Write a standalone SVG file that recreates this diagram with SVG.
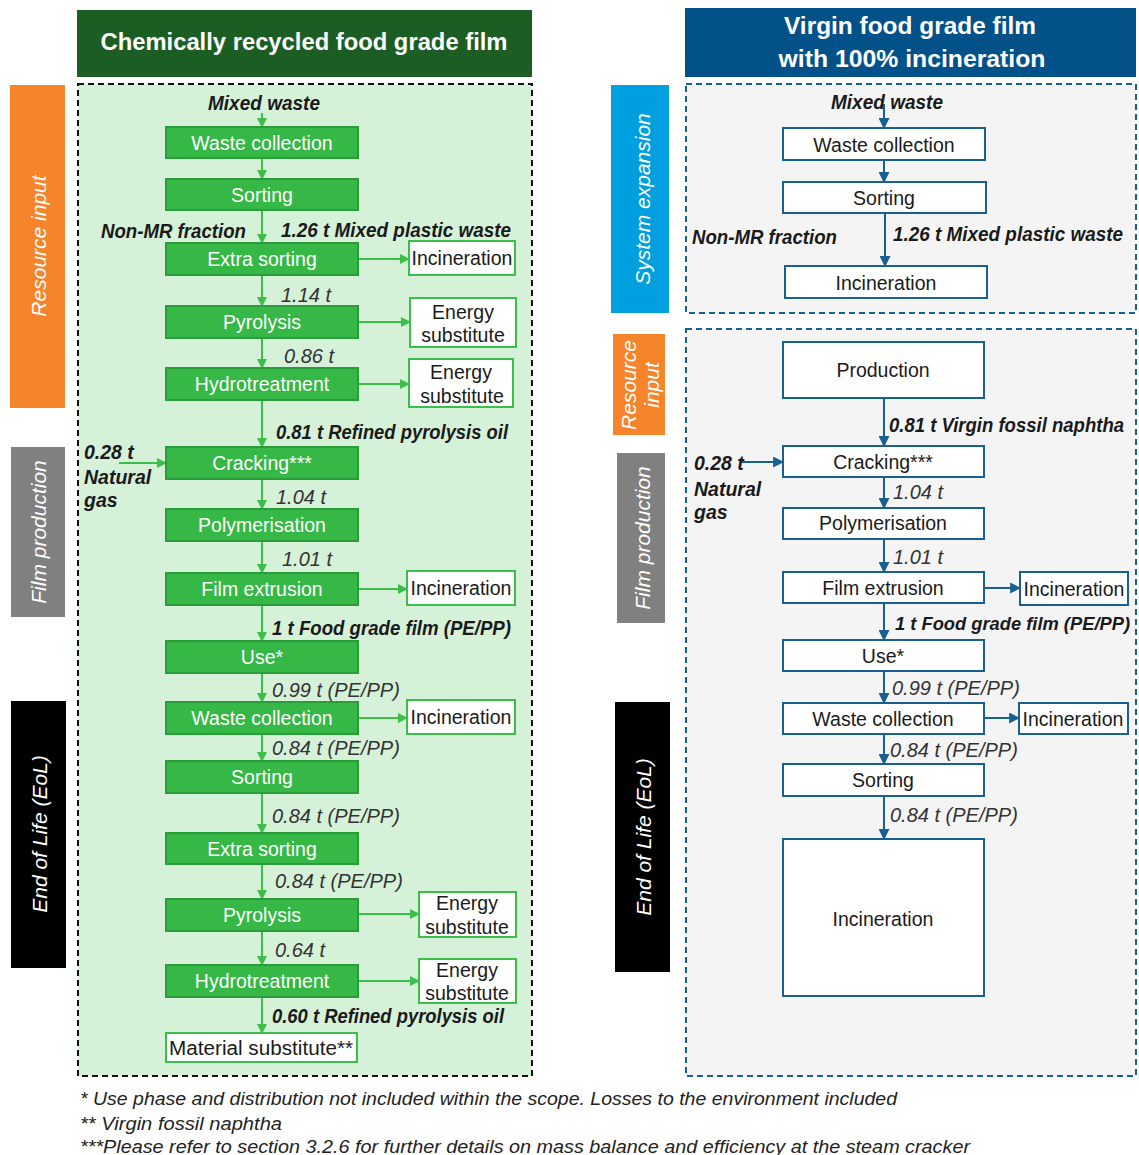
<svg xmlns="http://www.w3.org/2000/svg" width="1139" height="1155" viewBox="0 0 1139 1155">
<defs>
<marker id="ag" viewBox="0 0 10 10" refX="9" refY="5" markerWidth="10" markerHeight="10" markerUnits="userSpaceOnUse" orient="auto"><path d="M0,0 L10,5 L0,10 z" fill="#3cbf4a"/></marker>
<marker id="ab" viewBox="0 0 10 10" refX="9" refY="5" markerWidth="11" markerHeight="11" markerUnits="userSpaceOnUse" orient="auto"><path d="M0,0 L10,5 L0,10 z" fill="#1a5f91"/></marker>
</defs>
<style>
text{font-family:"Liberation Sans",Arial,sans-serif;}
.gb{fill:#35b846;stroke:#2a9c3a;stroke-width:2;}
.gw{fill:#ffffff;stroke:#3cbf4a;stroke-width:2;}
.bw{fill:#ffffff;stroke:#1a5f91;stroke-width:2;}
.tw{fill:#ffffff;font-size:19.5px;text-anchor:middle;dominant-baseline:central;}
.tk{fill:#1a1a1a;font-size:19.5px;text-anchor:middle;dominant-baseline:central;}
.lb{fill:#1a1a1a;font-size:19.5px;font-style:italic;font-weight:bold;dominant-baseline:central;}
.li{fill:#333333;font-size:20px;font-style:italic;dominant-baseline:central;}
.side{fill:#ffffff;font-size:21px;font-style:italic;text-anchor:middle;dominant-baseline:central;}
.hd{fill:#ffffff;font-size:24px;font-weight:bold;text-anchor:middle;dominant-baseline:central;}
.cg{stroke:#3cbf4a;stroke-width:2;fill:none;marker-end:url(#ag);}
.cb{stroke:#1a5f91;stroke-width:2;fill:none;marker-end:url(#ab);}
.fn{fill:#222222;font-size:19px;font-style:italic;dominant-baseline:central;}
</style>

<!-- Headers -->
<g id="header-left"><rect x="77" y="10" width="455" height="67" fill="#1c5d23"/><text class="hd" x="304" y="41" textLength="407" lengthAdjust="spacingAndGlyphs">Chemically recycled food grade film</text></g>
<g id="header-right"><rect x="685" y="8" width="451" height="69" fill="#025189"/><text class="hd" x="910" y="25" textLength="252" lengthAdjust="spacingAndGlyphs">Virgin food grade film</text><text class="hd" x="912" y="58" textLength="267" lengthAdjust="spacingAndGlyphs">with 100% incineration</text></g>

<!-- Boundaries -->
<g id="boundaries">
<rect x="78" y="84" width="454" height="992" fill="#d5f1d8" stroke="#111" stroke-width="2" stroke-dasharray="6,4"/>
<rect x="686" y="84" width="450" height="229" fill="#f4f4f4" stroke="#1a5f91" stroke-width="2" stroke-dasharray="6,4"/>
<rect x="686" y="329" width="450" height="747" fill="#f4f4f4" stroke="#1a5f91" stroke-width="2" stroke-dasharray="6,4"/>
</g>

<!-- Side labels -->
<g id="side-left-resource"><rect x="10" y="85" width="55" height="323" fill="#f5842a"/><text class="side" transform="translate(38,246) rotate(-90)">Resource input</text></g>
<g id="side-left-film"><rect x="11" y="447" width="54" height="170" fill="#808080"/><text class="side" transform="translate(38,532) rotate(-90)">Film production</text></g>
<g id="side-left-eol"><rect x="11" y="701" width="55" height="267" fill="#000000"/><text class="side" transform="translate(39,834) rotate(-90)">End of Life (EoL)</text></g>
<g id="side-right-sys"><rect x="611" y="85" width="58" height="228" fill="#00a0e0"/><text class="side" transform="translate(642,199) rotate(-90)">System expansion</text></g>
<g id="side-right-resource"><rect x="613" y="334" width="52" height="101" fill="#f5842a"/><text class="side" transform="translate(628,385) rotate(-90)">Resource</text><text class="side" transform="translate(651,385) rotate(-90)">input</text></g>
<g id="side-right-film"><rect x="617" y="453" width="48" height="170" fill="#808080"/><text class="side" transform="translate(642,538) rotate(-90)">Film production</text></g>
<g id="side-right-eol"><rect x="615" y="702" width="55" height="270" fill="#000000"/><text class="side" transform="translate(643,837) rotate(-90)">End of Life (EoL)</text></g>

<!-- Connectors -->
<g id="connectors">
<line class="cg" x1="262" y1="113" x2="262" y2="127"/>
<line class="cg" x1="262" y1="158" x2="262" y2="179"/>
<line class="cg" x1="262" y1="210" x2="262" y2="243"/>
<line class="cg" x1="262" y1="275" x2="262" y2="306"/>
<line class="cg" x1="262" y1="338" x2="262" y2="368"/>
<line class="cg" x1="262" y1="400" x2="262" y2="447"/>
<line class="cg" x1="119" y1="463" x2="166" y2="463"/>
<line class="cg" x1="262" y1="479" x2="262" y2="509"/>
<line class="cg" x1="262" y1="541" x2="262" y2="573"/>
<line class="cg" x1="262" y1="605" x2="262" y2="641"/>
<line class="cg" x1="262" y1="673" x2="262" y2="702"/>
<line class="cg" x1="262" y1="734" x2="262" y2="761"/>
<line class="cg" x1="262" y1="793" x2="262" y2="833"/>
<line class="cg" x1="262" y1="864" x2="262" y2="899"/>
<line class="cg" x1="262" y1="931" x2="262" y2="965"/>
<line class="cg" x1="262" y1="997" x2="262" y2="1033"/>
<line class="cg" x1="359" y1="259" x2="409" y2="259"/>
<line class="cg" x1="359" y1="322" x2="410" y2="322"/>
<line class="cg" x1="359" y1="384" x2="409" y2="384"/>
<line class="cg" x1="359" y1="589" x2="407" y2="589"/>
<line class="cg" x1="359" y1="718" x2="407" y2="718"/>
<line class="cg" x1="359" y1="914" x2="419" y2="914"/>
<line class="cg" x1="359" y1="981" x2="419" y2="981"/>

<line class="cb" x1="884" y1="104" x2="884" y2="128"/>
<line class="cb" x1="884" y1="160" x2="884" y2="182"/>
<line class="cb" x1="885" y1="213" x2="885" y2="266"/>
<line class="cb" x1="884" y1="398" x2="884" y2="446"/>
<line class="cb" x1="741" y1="462" x2="783" y2="462"/>
<line class="cb" x1="884" y1="477" x2="884" y2="508"/>
<line class="cb" x1="884" y1="539" x2="884" y2="572"/>
<line class="cb" x1="985" y1="588" x2="1020" y2="588"/>
<line class="cb" x1="884" y1="603" x2="884" y2="640"/>
<line class="cb" x1="884" y1="671" x2="884" y2="703"/>
<line class="cb" x1="985" y1="718" x2="1019" y2="718"/>
<line class="cb" x1="884" y1="734" x2="884" y2="764"/>
<line class="cb" x1="884" y1="796" x2="884" y2="839"/>
</g>

<!-- Left nodes -->
<g id="l-waste-collection"><rect class="gb" x="166" y="127" width="192" height="31"/><text class="tw" x="262" y="143">Waste collection</text></g>
<g id="l-sorting"><rect class="gb" x="166" y="179" width="192" height="31"/><text class="tw" x="262" y="195">Sorting</text></g>
<g id="l-extra-sorting"><rect class="gb" x="166" y="243" width="192" height="32"/><text class="tw" x="262" y="259">Extra sorting</text></g>
<g id="l-pyrolysis"><rect class="gb" x="166" y="306" width="192" height="32"/><text class="tw" x="262" y="322">Pyrolysis</text></g>
<g id="l-hydrotreatment"><rect class="gb" x="166" y="368" width="192" height="32"/><text class="tw" x="262" y="384">Hydrotreatment</text></g>
<g id="l-cracking"><rect class="gb" x="166" y="447" width="192" height="32"/><text class="tw" x="262" y="463">Cracking***</text></g>
<g id="l-polymerisation"><rect class="gb" x="166" y="509" width="192" height="32"/><text class="tw" x="262" y="525">Polymerisation</text></g>
<g id="l-film-extrusion"><rect class="gb" x="166" y="573" width="192" height="32"/><text class="tw" x="262" y="589">Film extrusion</text></g>
<g id="l-use"><rect class="gb" x="166" y="641" width="192" height="32"/><text class="tw" x="262" y="657">Use*</text></g>
<g id="l-waste-collection-2"><rect class="gb" x="166" y="702" width="192" height="32"/><text class="tw" x="262" y="718">Waste collection</text></g>
<g id="l-sorting-2"><rect class="gb" x="166" y="761" width="192" height="32"/><text class="tw" x="262" y="777">Sorting</text></g>
<g id="l-extra-sorting-2"><rect class="gb" x="166" y="833" width="192" height="31"/><text class="tw" x="262" y="849">Extra sorting</text></g>
<g id="l-pyrolysis-2"><rect class="gb" x="166" y="899" width="192" height="32"/><text class="tw" x="262" y="915">Pyrolysis</text></g>
<g id="l-hydrotreatment-2"><rect class="gb" x="166" y="965" width="192" height="32"/><text class="tw" x="262" y="981">Hydrotreatment</text></g>
<g id="l-material-substitute"><rect class="gw" x="166" y="1033" width="191" height="29"/><text class="tk" x="261" y="1048" textLength="184" lengthAdjust="spacingAndGlyphs">Material substitute**</text></g>

<g id="l-incin-1"><rect class="gw" x="409" y="241" width="106" height="34"/><text class="tk" x="462" y="258">Incineration</text></g>
<g id="l-energy-1"><rect class="gw" x="410" y="298" width="106" height="49"/><text class="tk" x="463" y="312">Energy</text><text class="tk" x="463" y="335">substitute</text></g>
<g id="l-energy-2"><rect class="gw" x="409" y="359" width="104" height="48"/><text class="tk" x="461" y="372">Energy</text><text class="tk" x="462" y="396">substitute</text></g>
<g id="l-incin-2"><rect class="gw" x="407" y="571" width="108" height="34"/><text class="tk" x="461" y="588">Incineration</text></g>
<g id="l-incin-3"><rect class="gw" x="407" y="700" width="108" height="34"/><text class="tk" x="461" y="717">Incineration</text></g>
<g id="l-energy-3"><rect class="gw" x="419" y="892" width="97" height="45"/><text class="tk" x="467" y="903">Energy</text><text class="tk" x="467" y="927">substitute</text></g>
<g id="l-energy-4"><rect class="gw" x="419" y="959" width="97" height="44"/><text class="tk" x="467" y="970">Energy</text><text class="tk" x="467" y="993">substitute</text></g>

<!-- Left labels -->
<g id="left-labels">
<text class="lb" x="208" y="103" textLength="112" lengthAdjust="spacingAndGlyphs">Mixed waste</text>
<text class="lb" x="101" y="231" textLength="145" lengthAdjust="spacingAndGlyphs">Non-MR fraction</text>
<text class="lb" x="281" y="230" textLength="230" lengthAdjust="spacingAndGlyphs">1.26 t Mixed plastic waste</text>
<text class="li" x="281" y="295">1.14 t</text>
<text class="li" x="284" y="356">0.86 t</text>
<text class="lb" x="276" y="432" textLength="232" lengthAdjust="spacingAndGlyphs">0.81 t Refined pyrolysis oil</text>
<text class="lb" x="84" y="452">0.28 t</text>
<text class="lb" x="84" y="477">Natural</text>
<text class="lb" x="84" y="500">gas</text>
<text class="li" x="276" y="497">1.04 t</text>
<text class="li" x="282" y="559">1.01 t</text>
<text class="lb" x="272" y="628" textLength="239" lengthAdjust="spacingAndGlyphs">1 t Food grade film (PE/PP)</text>
<text class="li" x="272" y="690">0.99 t (PE/PP)</text>
<text class="li" x="272" y="748">0.84 t (PE/PP)</text>
<text class="li" x="272" y="816">0.84 t (PE/PP)</text>
<text class="li" x="275" y="881">0.84 t (PE/PP)</text>
<text class="li" x="275" y="950">0.64 t</text>
<text class="lb" x="272" y="1016" textLength="232" lengthAdjust="spacingAndGlyphs">0.60 t Refined pyrolysis oil</text>
</g>

<!-- Right nodes -->
<g id="r-waste-collection"><rect class="bw" x="783" y="128" width="202" height="32"/><text class="tk" x="884" y="145">Waste collection</text></g>
<g id="r-sorting"><rect class="bw" x="783" y="182" width="203" height="31"/><text class="tk" x="884" y="198">Sorting</text></g>
<g id="r-incineration-se"><rect class="bw" x="785" y="266" width="202" height="32"/><text class="tk" x="886" y="283">Incineration</text></g>
<g id="r-production"><rect class="bw" x="783" y="342" width="201" height="56"/><text class="tk" x="883" y="370">Production</text></g>
<g id="r-cracking"><rect class="bw" x="783" y="446" width="201" height="31"/><text class="tk" x="883" y="462">Cracking***</text></g>
<g id="r-polymerisation"><rect class="bw" x="783" y="508" width="201" height="31"/><text class="tk" x="883" y="523">Polymerisation</text></g>
<g id="r-film-extrusion"><rect class="bw" x="783" y="572" width="201" height="31"/><text class="tk" x="883" y="588">Film extrusion</text></g>
<g id="r-incin-film"><rect class="bw" x="1020" y="572" width="108" height="33"/><text class="tk" x="1074" y="589">Incineration</text></g>
<g id="r-use"><rect class="bw" x="783" y="640" width="201" height="31"/><text class="tk" x="883" y="656">Use*</text></g>
<g id="r-waste-collection-2"><rect class="bw" x="783" y="703" width="201" height="31"/><text class="tk" x="883" y="719">Waste collection</text></g>
<g id="r-incin-wc"><rect class="bw" x="1019" y="703" width="109" height="31"/><text class="tk" x="1073" y="719">Incineration</text></g>
<g id="r-sorting-2"><rect class="bw" x="783" y="764" width="201" height="32"/><text class="tk" x="883" y="780">Sorting</text></g>
<g id="r-incineration"><rect class="bw" x="783" y="839" width="201" height="157"/><text class="tk" x="883" y="919">Incineration</text></g>

<!-- Right labels -->
<g id="right-labels">
<text class="lb" x="831" y="102" textLength="112" lengthAdjust="spacingAndGlyphs">Mixed waste</text>
<text class="lb" x="692" y="237" textLength="145" lengthAdjust="spacingAndGlyphs">Non-MR fraction</text>
<text class="lb" x="893" y="234" textLength="230" lengthAdjust="spacingAndGlyphs">1.26 t Mixed plastic waste</text>
<text class="lb" x="889" y="425" textLength="235" lengthAdjust="spacingAndGlyphs">0.81 t Virgin fossil naphtha</text>
<text class="lb" x="694" y="463">0.28 t</text>
<text class="lb" x="694" y="489">Natural</text>
<text class="lb" x="694" y="512">gas</text>
<text class="li" x="893" y="492">1.04 t</text>
<text class="li" x="893" y="557">1.01 t</text>
<text class="lb" x="895" y="624" style="font-size:17.5px" textLength="235" lengthAdjust="spacingAndGlyphs">1 t Food grade film (PE/PP)</text>
<text class="li" x="892" y="688">0.99 t (PE/PP)</text>
<text class="li" x="890" y="750">0.84 t (PE/PP)</text>
<text class="li" x="890" y="815">0.84 t (PE/PP)</text>
</g>

<!-- Footnotes -->
<g id="footnotes">
<text class="fn" x="80" y="1098" textLength="817" lengthAdjust="spacingAndGlyphs">* Use phase and distribution not included within the scope. Losses to the environment included</text>
<text class="fn" x="80" y="1123" textLength="202" lengthAdjust="spacingAndGlyphs">** Virgin fossil naphtha</text>
<text class="fn" x="80" y="1146" textLength="890" lengthAdjust="spacingAndGlyphs">***Please refer to section 3.2.6 for further details on mass balance and efficiency at the steam cracker</text>
</g>
</svg>
